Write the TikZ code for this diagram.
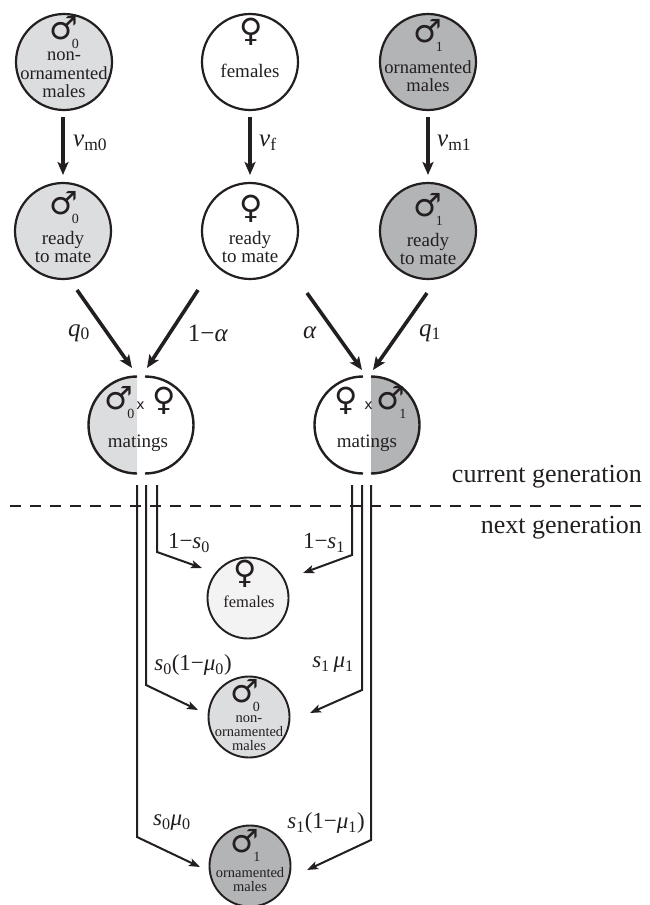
\documentclass[tikz,border=0pt]{standalone}
\usepackage{fontspec}
\setmainfont{Liberation Serif}
\newfontfamily\symf{DejaVu Sans}
\usetikzlibrary{arrows.meta,calc}
\definecolor{ink}{HTML}{231F20}
\definecolor{lgray}{HTML}{DCDDDF}
\definecolor{dgray}{HTML}{B3B4B6}
\definecolor{vlgray}{HTML}{F3F3F3}
\newcommand\sbs[1]{\textsubscript{#1}}
\newcommand\msym[1]{♂\rlap{\smash{\kern-6pt\raisebox{-9.5pt}{\fontsize{14}{14}\rmfamily #1}}}}
\begin{document}
\begin{tikzpicture}[x=1pt,y=-1pt,
  popc/.style={circle,draw=ink,line width=2.2pt,minimum size=96pt,inner sep=0pt},
  genc/.style={circle,draw=ink,line width=1.9pt,minimum size=81pt,inner sep=0pt},
  bigarrow/.style={draw=ink,line width=3.6pt,-{Stealth[length=13pt,width=11pt,inset=3pt]}},
  smallarrow/.style={draw=ink,line width=2pt,line join=miter,-{Stealth[length=11pt,width=8pt,inset=2.5pt]}},
  halfarc/.style={draw=ink,line width=2.4pt},
  sym/.style={inner sep=0pt,font=\symf\fontsize{32}{32}\selectfont,text=ink},
  ctext/.style={inner sep=0pt,align=center,font=\fontsize{19}{18.5}\selectfont,text=ink},
  gtext/.style={inner sep=0pt,align=center,font=\fontsize{14.5}{14}\selectfont,text=ink},
  lbl/.style={inner sep=0pt,font=\fontsize{25}{30}\selectfont,text=ink},
  glbl/.style={inner sep=0pt,font=\fontsize{23}{28}\selectfont,text=ink},
  gen/.style={inner sep=0pt,anchor=east,font=\fontsize{26}{30}\selectfont,text=ink},
  crossx/.style={inner sep=0pt,font=\symf\fontsize{14}{14}\selectfont,text=ink}
]
\useasboundingbox (0,0) rectangle (649,905);

% current generation populations
\node[popc,fill=lgray] (A) at (64,62) {};
\node[popc,fill=white] (B) at (250,62) {};
\node[popc,fill=dgray] (C) at (428,62) {};
\node[sym] (A-s) at (63.5,28) {\msym{0}};
\node[ctext,font=\fontsize{18.5}{18.5}\selectfont] (A-t) at (64,75) {non-\\ornamented\\males};
\node[sym] (B-s) at (251,31.5) {♀};
\node[ctext] (B-t) at (250,71) {females};
\node[sym] (C-s) at (427.5,31) {\msym{1}};
\node[ctext,font=\fontsize{18.5}{18.5}\selectfont] (C-t) at (428,76) {ornamented\\males};

\node[popc,fill=lgray] (D) at (63,231) {};
\node[popc,fill=white] (E) at (250,231) {};
\node[popc,fill=dgray] (F) at (428,231) {};
\node[sym] (D-s) at (63.5,203) {\msym{0}};
\node[ctext] (D-t) at (63,247) {ready\\to mate};
\node[sym] (E-s) at (251,208.5) {♀};
\node[ctext] (E-t) at (250,247) {ready\\to mate};
\node[sym] (F-s) at (427.5,205) {\msym{1}};
\node[ctext] (F-t) at (428,249) {ready\\to mate};

% vertical arrows
\draw[bigarrow] ($(A)+(-1,55)$) -- ($(D)+(0,-56)$);
\draw[bigarrow] ($(B)+(0,55)$) -- ($(E)+(0,-56)$);
\draw[bigarrow] ($(C)+(0,55)$) -- ($(F)+(0,-56)$);
\node[lbl,anchor=west] (vm0) at (73,143) {\textit{v}\sbs{m0}};
\node[lbl,anchor=west] (vf) at (259,143) {\textit{v}\sbs{f}};
\node[lbl,anchor=west] (vm1) at (437,143) {\textit{v}\sbs{m1}};

% matings
\coordinate (M0) at (141,425);
\coordinate (M1) at (367,425);
\fill[lgray] ($(M0)+(-4,-48.5)$) arc[start angle=270,end angle=90,radius=48.5] -- cycle;
\draw[halfarc] ($(M0)+(-4,-48.5)$) arc[start angle=270,end angle=90,radius=48.5];
\draw[halfarc] ($(M0)+(4,-48.5)$) arc[start angle=-90,end angle=90,radius=48.5];
\fill[dgray] ($(M1)+(4,-48.5)$) arc[start angle=-90,end angle=90,radius=48.5] -- cycle;
\draw[halfarc] ($(M1)+(-4,-48.5)$) arc[start angle=270,end angle=90,radius=48.5];
\draw[halfarc] ($(M1)+(4,-48.5)$) arc[start angle=-90,end angle=90,radius=48.5];

\node[sym] (M0-s) at (119,398) {\msym{0}};
\node[crossx] (M0-x) at (140.5,406) {x};
\node[sym] (M0-f) at (164,401) {♀};
\node[ctext] (M0-t) at (138,443) {matings};
\node[sym] (M1-f) at (346,401) {♀};
\node[crossx] (M1-x) at (368.5,406) {x};
\node[sym] (M1-s) at (391,398) {\msym{1}};
\node[ctext] (M1-t) at (367,443) {matings};

% diagonal arrows
\draw[bigarrow] ($(D)+(14,59)$) -- ($(M0)+(-9,-57)$);
\draw[bigarrow] ($(E)+(-52,59)$) -- ($(M0)+(6,-57)$);
\draw[bigarrow] ($(E)+(57,62)$) -- ($(M1)+(-5,-55)$);
\draw[bigarrow] ($(F)+(-1,62)$) -- ($(M1)+(6,-55)$);
\node[lbl] (lq0) at (79,333) {\textit{q}\sbs{0}};
\node[lbl] (lna) at (208,333) {1−\textit{α}};
\node[lbl] (la) at (310,333) {\textit{α}};
\node[lbl] (lq1) at (430,333) {\textit{q}\sbs{1}};

% generation divider
\coordinate (dl) at (10,506);
\coordinate (dr) at (647,506);
\draw[ink,line width=2.7pt,dash pattern=on 10.7pt off 9.3pt] (dl) -- (dr);
\node[gen] (cg) at (642,477) {current generation};
\node[gen] (ng) at (642,528) {next generation};

% next generation
\node[genc,fill=vlgray] (G) at (248,598) {};
\node[genc,fill=lgray] (H) at (249,717) {};
\node[genc,fill=dgray] (I) at (250,866) {};
\node[sym] (G-s) at (245,574) {♀};
\node[inner sep=0pt,align=center,font=\fontsize{16.5}{16}\selectfont,text=ink] (G-t) at (249,602) {females};
\node[sym] (H-s) at (244.5,691) {\msym{0}};
\node[gtext] (H-t) at (249,733) {non-\\ornamented\\males};
\node[sym] (I-s) at (245,841) {\msym{1}};
\node[gtext] (I-t) at (250,880) {ornamented\\males};

\draw[smallarrow] ($(M0)+(16,60)$) -- ($(M0)+(16,127)$) -- ($(G)+(-46,-30)$);
\draw[smallarrow] ($(M1)+(-15,60)$) -- ($(M1)+(-15,130)$) -- ($(G)+(55,-25)$);
\draw[smallarrow] ($(M0)+(5,60)$) -- ($(M0)+(5,260)$) -- ($(H)+(-51,-7)$);
\draw[smallarrow] ($(M1)+(-5,60)$) -- ($(M1)+(-5,265)$) -- ($(H)+(61,-4)$);
\draw[smallarrow] ($(M0)+(-4,60)$) -- ($(M0)+(-4,412)$) -- ($(I)+(-50,1)$);
\draw[smallarrow] ($(M1)+(4,60)$) -- ($(M1)+(4,415)$) -- ($(I)+(57,4)$);

\node[glbl] (l1s0) at (189,543) {1−\textit{s}\sbs{0}};
\node[glbl] (l1s1) at (324,543) {1−\textit{s}\sbs{1}};
\node[glbl] (ls0m) at (193,665) {\textit{s}\sbs{0}(1−\textit{μ}\sbs{0})};
\node[glbl] (ls1m) at (333,665) {\textit{s}\sbs{1}\,\textit{μ}\sbs{1}};
\node[glbl] (ls0m0) at (172,823) {\textit{s}\sbs{0}\textit{μ}\sbs{0}};
\node[glbl] (ls1m1) at (326,823) {\textit{s}\sbs{1}(1−\textit{μ}\sbs{1})};
\end{tikzpicture}
\end{document}
